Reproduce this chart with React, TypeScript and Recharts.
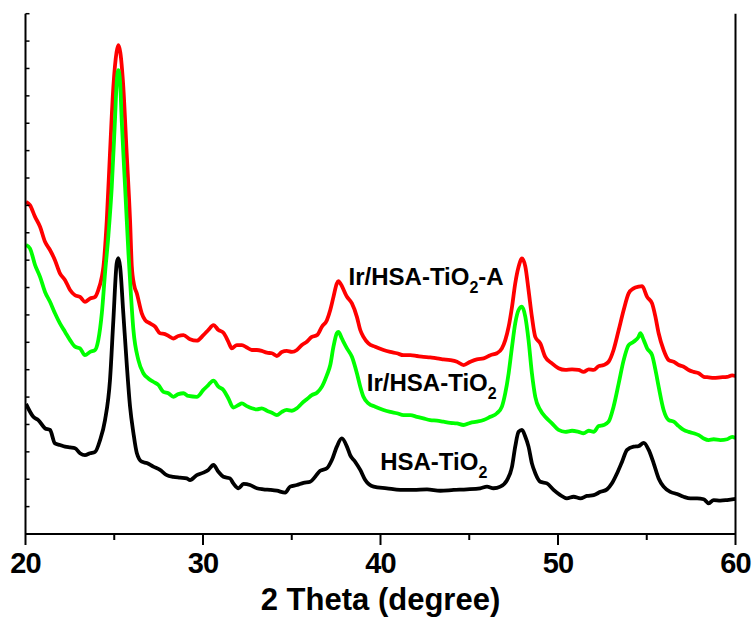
import React from 'react';
import { LineChart, Line, XAxis, YAxis, ReferenceDot, Label } from 'recharts';

// HSA-TiO2 (black)
const hsaTheta = [20.03,20.44,20.72,21.10,21.38,21.66,21.94,22.23,22.51,22.79,23.07,23.35,23.64,23.92,24.20,24.48,24.76,24.95,25.14,25.23,25.33,25.51,25.70,25.89,26.08,26.27,26.55,26.83,27.20,27.58,27.96,28.33,28.71,29.09,29.27,29.65,30.02,30.30,30.59,30.87,31.15,31.52,31.71,32.00,32.28,32.65,33.03,33.40,33.78,34.16,34.63,34.91,35.29,35.66,36.04,36.32,36.60,36.98,37.26,37.54,37.82,38.11,38.29,38.57,38.86,39.14,39.61,40.36,41.11,41.86,42.62,43.37,44.12,44.87,45.62,46.00,46.37,46.75,47.13,47.41,47.59,47.78,47.97,48.16,48.34,48.53,48.72,49.00,49.38,49.75,50.13,50.50,50.88,51.26,51.63,52.01,52.39,52.76,53.04,53.33,53.61,53.89,54.26,54.54,54.83,55.11,55.39,55.67,55.95,56.33,56.71,57.08,57.46,57.84,58.21,58.49,58.77,59.15,59.53,59.90,60.00];
const hsaIntensity = [475,428,416,386,380,331,325,319,316,313,295,288,295,300,343,416,562,781,989,1007,976,807,624,465,369,296,264,259,246,234,215,209,206,203,197,215,224,234,252,227,209,203,185,167,183,179,167,163,161,158,151,173,179,187,191,209,231,240,270,319,349,319,288,264,234,197,173,167,161,161,163,158,161,163,167,173,167,173,197,246,319,373,380,355,319,258,222,191,185,161,142,130,136,130,139,142,154,163,185,222,264,307,319,321,333,307,258,203,173,154,146,136,130,130,127,112,124,122,124,127,128];

// Ir/HSA-TiO2 (green)
const irTheta = [20.03,20.25,20.54,20.82,21.10,21.38,21.66,21.94,22.23,22.51,22.79,23.07,23.35,23.64,23.92,24.10,24.30,24.48,24.67,24.86,25.04,25.14,25.23,25.33,25.42,25.61,25.80,25.89,26.08,26.36,26.64,26.92,27.20,27.49,27.77,28.05,28.33,28.61,28.90,29.18,29.65,30.02,30.30,30.59,30.87,31.15,31.43,31.71,32.00,32.19,32.47,32.75,33.03,33.31,33.60,33.88,34.16,34.44,34.72,35.01,35.29,35.57,35.85,36.13,36.42,36.70,36.98,37.17,37.35,37.54,37.63,37.82,38.11,38.39,38.67,38.86,39.04,39.32,39.70,40.17,40.55,40.92,41.30,41.68,42.05,42.42,42.80,43.18,43.55,43.93,44.31,44.68,45.06,45.43,45.81,46.19,46.56,46.84,47.03,47.22,47.41,47.59,47.78,47.97,48.16,48.34,48.53,48.72,49.00,49.28,49.66,50.03,50.41,50.79,51.16,51.44,51.73,52.01,52.29,52.57,52.85,53.13,53.42,53.70,53.98,54.26,54.54,54.64,54.83,55.02,55.30,55.49,55.67,55.95,56.24,56.52,56.80,57.08,57.36,57.64,57.93,58.21,58.49,58.77,59.15,59.53,59.81,60.00];
const irIntensity = [1055,1043,982,939,884,848,806,769,738,708,684,678,653,665,672,708,806,952,1091,1268,1511,1650,1694,1650,1511,1268,1025,927,745,635,587,568,556,544,519,514,501,511,514,504,501,526,544,560,538,526,495,462,471,477,467,459,455,459,450,443,434,446,453,450,459,477,492,507,516,538,580,617,684,733,738,714,678,647,587,538,501,477,465,453,446,441,434,434,428,422,416,414,410,406,404,398,406,410,416,428,441,465,514,587,684,769,818,830,793,708,587,501,453,428,404,380,373,377,373,368,377,373,394,398,410,465,550,635,690,702,720,733,708,678,653,599,538,453,416,410,394,380,373,368,361,349,343,346,343,346,355,350];

// Ir/HSA-TiO2-A (red)
const irATheta = [20.03,20.25,20.54,20.82,21.10,21.38,21.66,21.94,22.23,22.51,22.79,23.07,23.35,23.64,23.92,24.10,24.30,24.39,24.58,24.76,24.95,25.13,25.23,25.34,25.51,25.70,25.89,25.99,26.12,26.27,26.55,26.74,27.02,27.30,27.58,27.86,28.14,28.33,28.61,28.90,29.27,29.65,30.02,30.30,30.59,30.87,31.15,31.43,31.62,31.91,32.19,32.47,32.75,33.03,33.31,33.60,33.88,34.16,34.44,34.72,35.01,35.29,35.57,35.85,36.13,36.42,36.70,36.98,37.17,37.35,37.54,37.63,37.73,38.11,38.39,38.67,38.86,39.04,39.32,39.70,40.17,40.55,40.92,41.30,41.68,42.05,42.42,42.80,43.18,43.55,43.93,44.31,44.68,45.06,45.43,45.81,46.19,46.56,46.84,47.03,47.22,47.41,47.59,47.78,47.97,48.16,48.34,48.53,48.72,49.00,49.28,49.66,50.03,50.41,50.79,51.16,51.44,51.73,52.01,52.29,52.57,52.85,53.13,53.42,53.70,53.98,54.26,54.54,54.74,55.02,55.30,55.49,55.67,55.95,56.24,56.52,56.80,57.08,57.36,57.64,57.93,58.21,58.49,58.77,59.15,59.53,59.81,60.00];
const irAIntensity = [1213,1201,1158,1122,1067,1037,1000,952,927,891,872,866,848,860,866,891,939,976,1146,1391,1633,1759,1785,1759,1633,1391,1146,976,909,879,806,781,769,757,733,730,720,714,723,726,711,706,726,745,763,745,735,702,678,690,690,681,672,672,669,662,660,650,665,669,665,672,690,702,720,726,757,781,818,866,915,923,916,866,842,793,745,720,696,684,672,665,660,653,653,650,647,645,641,638,635,629,617,629,638,641,653,660,678,708,757,830,915,976,1006,976,891,793,720,696,647,623,605,599,601,599,592,601,599,613,617,629,672,745,818,879,897,903,905,866,842,793,733,672,635,629,617,611,599,592,587,574,572,570,572,574,579,577];

const xTicks = [20, 25, 30, 35, 40, 45, 50, 55, 60];
const yTicks = [0,100,200,300,400,500,600,700,800,900,1000,1100,1200,1300,1400,1500,1600,1700,1800,1900];
const xTitle = '2 Theta (degree)';

const sampleLabels = [
  { main: 'Ir/HSA-TiO', sub: '2', tail: '-A', theta: 38.2, intensity: 911 },
  { main: 'Ir/HSA-TiO', sub: '2', tail: '', theta: 39.23, intensity: 524 },
  { main: 'HSA-TiO', sub: '2', tail: '', theta: 39.98, intensity: 235 },
];

const toPoints = (t: number[], v: number[]) => t.map((x, i) => ({ theta: x, intensity: v[i] }));
const hsaData = toPoints(hsaTheta, hsaIntensity);
const irData = toPoints(irTheta, irIntensity);
const irAData = toPoints(irATheta, irAIntensity);

const FONT = '"Liberation Sans", Arial, sans-serif';

const XTick = (props: any) => {
  const { x, y, payload } = props;
  const v = payload.value;
  const major = v % 10 === 0;
  return (
    <g>
      <line x1={x} x2={x} y1={y} y2={y + (major ? 11 : 6)} stroke="#000" strokeWidth={2} />
      {major && (
        <text x={x} y={y + 39} textAnchor="middle" fontFamily={FONT} fontWeight="bold" fontSize={29} letterSpacing={-1} fill="#000">
          {v}
        </text>
      )}
    </g>
  );
};

const YTick = (props: any) => {
  const { x, y, dir } = props;
  return <line x1={x} x2={x + dir * 4} y1={y} y2={y} stroke="#000" strokeWidth={1.5} />;
};

const makeLabelShape = (l: any) => (p: any) => (
  <text x={p.cx} y={p.cy} fontFamily={FONT} fontWeight="bold" fontSize={24} fill="#000">
    <tspan>{l.main}</tspan>
    <tspan fontSize={16} dy={8}>{l.sub}</tspan>
    {l.tail ? <tspan fontSize={24} dy={-8}>{l.tail}</tspan> : null}
  </text>
);

export default function App() {
  return (
    <div style={{ position: 'absolute', left: 0, top: 0, width: 755, height: 621, background: '#fff' }}>
      <LineChart width={755} height={621} margin={{ top: 13.7, right: 18.5, bottom: 0, left: 24.5 }}>
        <XAxis
          dataKey="theta"
          type="number"
          domain={[20, 60]}
          ticks={xTicks}
          interval={0}
          allowDataOverflow
          height={87}
          tickSize={0}
          tickMargin={0}
          tickLine={false}
          tick={<XTick />}
          axisLine={{ stroke: '#000', strokeWidth: 2 }}
        >
          <Label
            content={(p: any) => {
              const vb = p.viewBox;
              return (
                <text x={vb.x + vb.width / 2} y={vb.y + 76} textAnchor="middle" fontFamily={FONT} fontWeight="bold" fontSize={31} fill="#000">
                  {xTitle}
                </text>
              );
            }}
          />
        </XAxis>
        <XAxis
          xAxisId="top"
          orientation="top"
          dataKey="theta"
          type="number"
          domain={[20, 60]}
          height={0}
          tick={false}
          tickLine={false}
          axisLine={{ stroke: '#000', strokeWidth: 2 }}
        />
        <YAxis
          yAxisId="left"
          type="number"
          domain={[0, 1900]}
          ticks={yTicks}
          interval={0}
          width={1}
          tickSize={0}
          tickMargin={0}
          tickLine={false}
          tick={<YTick dir={1} />}
          axisLine={{ stroke: '#000', strokeWidth: 2 }}
        />
        <YAxis
          yAxisId="right"
          orientation="right"
          type="number"
          domain={[0, 1900]}
          ticks={yTicks}
          interval={0}
          width={1}
          tickSize={0}
          tickMargin={0}
          tickLine={false}
          tick={<YTick dir={-1} />}
          axisLine={{ stroke: '#000', strokeWidth: 2 }}
        />
        <Line data={irAData} dataKey="intensity" yAxisId="left" type="monotone" stroke="#ff0000" strokeWidth={3.8} dot={false} isAnimationActive={false} />
        <Line data={irData} dataKey="intensity" yAxisId="left" type="monotone" stroke="#00ff00" strokeWidth={3.8} dot={false} isAnimationActive={false} />
        <Line data={hsaData} dataKey="intensity" yAxisId="left" type="monotone" stroke="#000000" strokeWidth={3.8} dot={false} isAnimationActive={false} />
        {sampleLabels.map((l, i) => (
          <ReferenceDot key={i} x={l.theta} y={l.intensity} yAxisId="left" r={0} shape={makeLabelShape(l)} />
        ))}
      </LineChart>
    </div>
  );
}
